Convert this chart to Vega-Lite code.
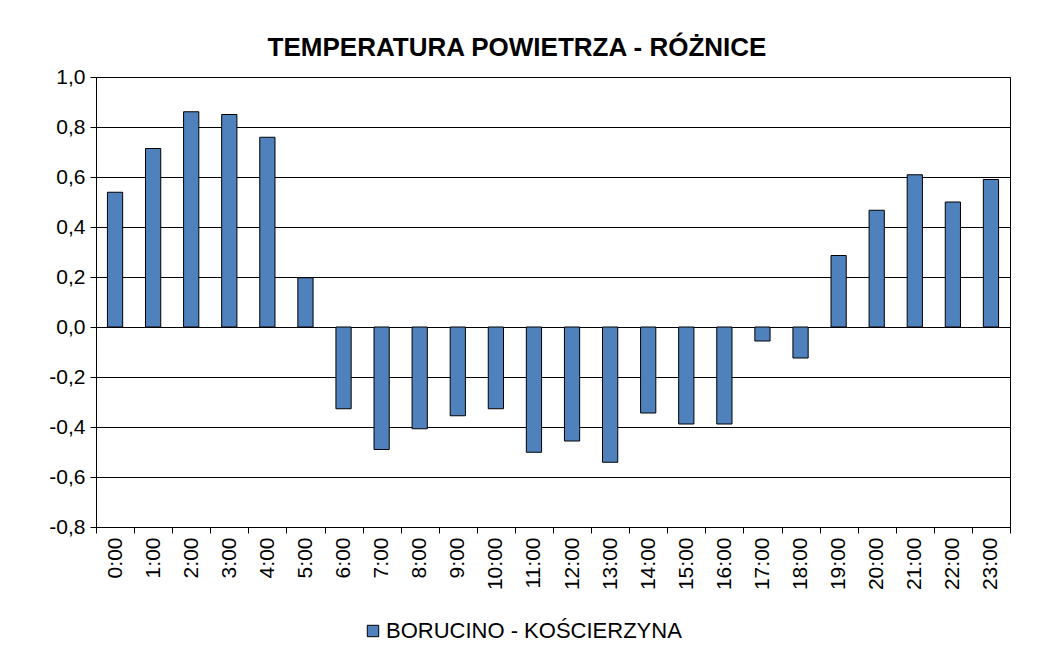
{
  "$schema": "https://vega.github.io/schema/vega-lite/v6.json",
  "autosize": {"type": "none"},
  "width": 914,
  "height": 450,
  "padding": {"left": 96, "top": 77, "right": 28, "bottom": 122},
  "background": "white",
  "title": {
    "text": "TEMPERATURA POWIETRZA - RÓŻNICE",
    "font": "Liberation Sans",
    "fontSize": 26,
    "fontWeight": "bold",
    "color": "#000",
    "anchor": "middle",
    "dx": -36,
    "offset": 5
  },
  "data": {
    "values": [
      {"hour": "0:00", "series": "BORUCINO - KOŚCIERZYNA", "diff": 0.539},
      {"hour": "1:00", "series": "BORUCINO - KOŚCIERZYNA", "diff": 0.714},
      {"hour": "2:00", "series": "BORUCINO - KOŚCIERZYNA", "diff": 0.861},
      {"hour": "3:00", "series": "BORUCINO - KOŚCIERZYNA", "diff": 0.85},
      {"hour": "4:00", "series": "BORUCINO - KOŚCIERZYNA", "diff": 0.759},
      {"hour": "5:00", "series": "BORUCINO - KOŚCIERZYNA", "diff": 0.197},
      {"hour": "6:00", "series": "BORUCINO - KOŚCIERZYNA", "diff": -0.327},
      {"hour": "7:00", "series": "BORUCINO - KOŚCIERZYNA", "diff": -0.49},
      {"hour": "8:00", "series": "BORUCINO - KOŚCIERZYNA", "diff": -0.407},
      {"hour": "9:00", "series": "BORUCINO - KOŚCIERZYNA", "diff": -0.355},
      {"hour": "10:00", "series": "BORUCINO - KOŚCIERZYNA", "diff": -0.327},
      {"hour": "11:00", "series": "BORUCINO - KOŚCIERZYNA", "diff": -0.501},
      {"hour": "12:00", "series": "BORUCINO - KOŚCIERZYNA", "diff": -0.456},
      {"hour": "13:00", "series": "BORUCINO - KOŚCIERZYNA", "diff": -0.541},
      {"hour": "14:00", "series": "BORUCINO - KOŚCIERZYNA", "diff": -0.344},
      {"hour": "15:00", "series": "BORUCINO - KOŚCIERZYNA", "diff": -0.388},
      {"hour": "16:00", "series": "BORUCINO - KOŚCIERZYNA", "diff": -0.388},
      {"hour": "17:00", "series": "BORUCINO - KOŚCIERZYNA", "diff": -0.056},
      {"hour": "18:00", "series": "BORUCINO - KOŚCIERZYNA", "diff": -0.124},
      {"hour": "19:00", "series": "BORUCINO - KOŚCIERZYNA", "diff": 0.286},
      {"hour": "20:00", "series": "BORUCINO - KOŚCIERZYNA", "diff": 0.467},
      {"hour": "21:00", "series": "BORUCINO - KOŚCIERZYNA", "diff": 0.609},
      {"hour": "22:00", "series": "BORUCINO - KOŚCIERZYNA", "diff": 0.5},
      {"hour": "23:00", "series": "BORUCINO - KOŚCIERZYNA", "diff": 0.59}
    ]
  },
  "mark": {"type": "bar", "width": {"band": 0.4}, "stroke": "#000", "strokeWidth": 1},
  "encoding": {
    "x": {
      "field": "hour",
      "type": "nominal",
      "sort": null,
      "scale": {"paddingInner": 0, "paddingOuter": 0},
      "axis": {
        "title": null,
        "labelAngle": -90,
        "labelFont": "Liberation Sans",
        "labelFontSize": 21,
        "labelColor": "#000",
        "labelPadding": 4,
        "tickBand": "extent",
        "tickSize": 6,
        "tickColor": "#000",
        "domainColor": "#000",
        "grid": false
      }
    },
    "y": {
      "field": "diff",
      "type": "quantitative",
      "scale": {"domain": [-0.8, 1.0], "nice": false, "zero": false},
      "axis": {
        "title": null,
        "values": [-0.8, -0.6, -0.4, -0.2, 0, 0.2, 0.4, 0.6, 0.8, 1.0],
        "labelExpr": "replace(replace(format(datum.value, '.1f'), '.', ','), '−', '-')",
        "labelFont": "Liberation Sans",
        "labelFontSize": 21,
        "labelColor": "#000",
        "labelPadding": 5,
        "tickSize": 6,
        "tickColor": "#000",
        "domainColor": "#000",
        "grid": true,
        "gridColor": "#000",
        "gridOpacity": 1,
        "gridWidth": 1
      }
    },
    "color": {
      "field": "series",
      "type": "nominal",
      "scale": {"range": ["#4F81BD"]},
      "legend": {
        "title": null,
        "orient": "none",
        "legendX": 266,
        "legendY": 543,
        "direction": "horizontal",
        "symbolType": "square",
        "symbolSize": 130,
        "symbolStrokeColor": "#000",
        "symbolStrokeWidth": 1,
        "symbolOpacity": 1,
        "labelFont": "Liberation Sans",
        "labelFontSize": 22,
        "labelColor": "#000",
        "labelLimit": 0,
        "labelOffset": 2
      }
    }
  },
  "config": {
    "view": {"stroke": "#000", "strokeWidth": 1}
  }
}
